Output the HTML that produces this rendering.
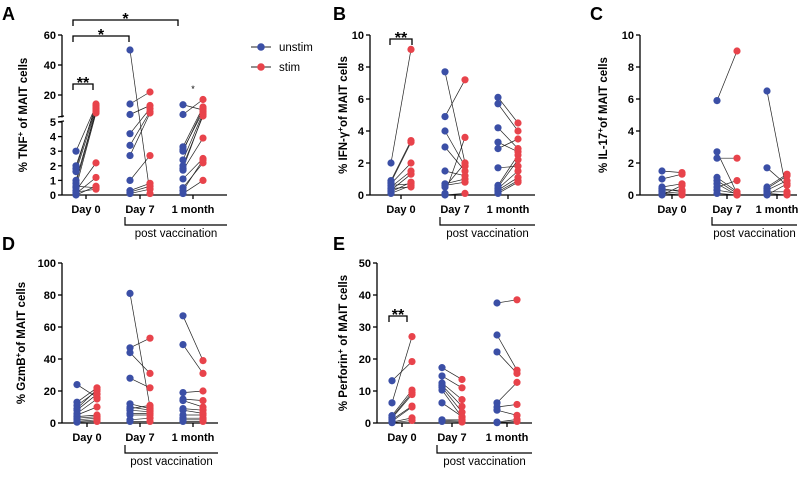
<!DOCTYPE html>
<html><head><meta charset="utf-8"><style>
body{margin:0;background:#fff;}
svg text{font-family:"Liberation Sans",Arial,sans-serif;}
.tk{font-size:11px;font-weight:bold;}
.tt{font-size:11.5px;font-weight:bold;}
.pl{font-size:18px;font-weight:bold;}
</style></head><body>
<svg id="fig" width="800" height="472" viewBox="0 0 800 472" xmlns="http://www.w3.org/2000/svg"></svg>
<script>
const categories = ["Day 0","Day 7","1 month"];
// Panel A (TNF, broken axis)
const aUnstim = [[3.0,2.0,1.8,1.6,1.0,0.8,0.5,0.3,0.1,0.0,0.6,0.2],[50,14,7,4.2,3.4,2.7,1.0,0.3,0.2,0.1],[13.5,7,3.3,3.1,2.4,1.8,1.7,1.1,0.5,0.1,3.0,2.0,0.3]];
const aStim = [[13,12,14,11,10,9,8,2.2,1.2,0.6,0.5,0.4],[0.1,22,13,11,9,8,2.7,0.8,0.6,0.4],[10,17,12,9,8,7,3.9,2.5,2.2,1.0,11,6,2.4]];
const aTicksLow = [0,1,2,3,4,5];
const aTicksHigh = [20,40,60];
// Panel B (IFN-g)
const bUnstim = [[2.0,0.9,0.8,0.7,0.5,0.3,0.2,0.1,0.6,0.4],[7.7,4.9,4.0,3.0,1.5,0.7,0.6,0.5,0.1,0.0],[6.1,5.7,4.2,3.3,2.9,1.7,0.6,0.5,0.4,0.3,0.2,0.1]];
const bStim = [[9.1,3.4,3.3,2.0,1.5,1.3,0.8,0.6,0.7,0.5],[2.0,7.2,1.8,1.5,1.2,1.0,0.8,2.0,3.6,0.1],[4.5,4.0,2.9,2.7,3.5,1.8,2.5,2.2,1.5,1.1,0.9,0.8]];
const bTicks = [0,2,4,6,8,10];
// Panel C (IL-17)
const cUnstim = [[1.5,1.0,0.5,0.4,0.3,0.2,0.1,0.0],[5.9,2.7,2.3,1.1,0.9,0.7,0.5,0.3,0.1],[6.5,1.7,0.5,0.4,0.3,0.2,0.1,0.0]];
const cStim = [[1.4,1.3,0.7,0.2,0.3,0.1,0.0,0.6],[9.0,0.1,2.3,0.2,0.1,0.0,0.9,0.1,0.0],[0.1,0.6,1.3,1.2,0.9,0.2,0.0,0.7]];
const cTicks = [0,2,4,6,8,10];
// Panel D (GzmB)
const dUnstim = [[24,13,11,9,8,6,5,4,3,2,1,0.5],[81,47,44,28,12,10,9,8,6,5,2,1],[67,49,19,15,14,9,8,5,3,2,1]];
const dStim = [[16,22,20,21,18,15,10,5,4,3,2,1],[10,53,31,22,9,8,11,7,6,5,3,1],[39,31,20,14,10,8,6,5,3,2,1]];
const dTicks = [0,20,40,60,80,100];
// Panel E (Perforin)
const eUnstim = [[13.2,6.3,2.3,1.8,1.5,1.0,0.5,0.3,0.1],[17.3,14.7,12.5,11.8,11.2,10.3,6.3,1.0,0.8,0.5],[37.5,27.5,22.2,6.3,5.0,4.0,0.3,0.1]];
const eStim = [[19.2,27,10.3,9.5,8.9,5.3,5.0,1.6,0.8],[13.6,11,7.3,5.2,3.4,1.8,2.0,1.0,0.6,0.3],[38.5,16.5,15.5,12.7,5.8,2.4,1.1,0.5]];
const eTicks = [0,10,20,30,40,50];

const NS="http://www.w3.org/2000/svg";
const svg=document.getElementById('fig');
const BLUE="#3b4fa6", RED="#e8434b";
function mk(tag,attrs,parent){const e=document.createElementNS(NS,tag);for(const k in attrs)e.setAttribute(k,attrs[k]);(parent||svg).appendChild(e);return e;}
function txt(x,y,s,cls,anchor,parent){const t=mk('text',{x:x,y:y,class:cls,'text-anchor':anchor||'middle'},parent);t.textContent=s;return t;}

function panel(cfg){
  const g=mk('g',{});
  
  
  const pl=txt(cfg.lx,cfg.ly,cfg.letter,'pl','start',g);
  
  
  // y axis
  if(cfg.broken){
    mk('line',{x1:cfg.ax,y1:cfg.yTop,x2:cfg.ax,y2:117.5,stroke:'#000','stroke-width':1.3},g);
    mk('line',{x1:cfg.ax,y1:122,x2:cfg.ax,y2:cfg.y0,stroke:'#000','stroke-width':1.3},g);
    mk('line',{x1:cfg.ax-4,y1:117,x2:cfg.ax+2,y2:116,stroke:'#000','stroke-width':1.3},g);
    mk('line',{x1:cfg.ax-4,y1:122,x2:cfg.ax+2,y2:121,stroke:'#000','stroke-width':1.3},g);
  } else {
    mk('line',{x1:cfg.ax,y1:cfg.yTop,x2:cfg.ax,y2:cfg.y0,stroke:'#000','stroke-width':1.3},g);
  }
  cfg.ticks.forEach(v=>{const y=cfg.ys(v);
    mk('line',{x1:cfg.ax-4,y1:y,x2:cfg.ax,y2:y,stroke:'#000','stroke-width':1.3},g);
    const t=txt(cfg.ax-6,y+4,String(v),'tk','end',g);
    
    
  });
  // x axis
  mk('line',{x1:cfg.ax,y1:cfg.y0,x2:cfg.xEnd,y2:cfg.y0,stroke:'#000','stroke-width':1.3},g);
  categories.forEach((c,i)=>{const x=cfg.cats[i];
    mk('line',{x1:x,y1:cfg.y0,x2:x,y2:cfg.y0+4,stroke:'#000','stroke-width':1.3},g);
    const t=txt(x,cfg.y0+18,c,'tk','middle',g);
    
    
  });
  // post vaccination bracket
  const by=cfg.y0+30;
  mk('path',{d:`M${cfg.cats[1]-15},${by-8} V${by} H${cfg.xEnd}`,fill:'none',stroke:'#000','stroke-width':1.2},g);
  const pv=mk('text',{x:(cfg.cats[1]-15+cfg.xEnd)/2,y:by+12,'text-anchor':'middle','font-size':'11.5'},g);
  pv.textContent='post vaccination';
  
  
  // y title
  const tt=mk('text',{x:0,y:0,class:'tt','text-anchor':'middle',transform:`translate(${cfg.tx},${(cfg.yTop+cfg.y0)/2}) rotate(-90)`},g);
  
  
  const a=mk('tspan',{},tt);a.textContent=cfg.t1;
  const s=mk('tspan',{'baseline-shift':'super','font-size':'8'},tt);s.textContent='+';
  const b=mk('tspan',{},tt);b.textContent=cfg.t2;
  // data
  for(let i=0;i<3;i++){
    const xb=cfg.cats[i]-10,xr=cfg.cats[i]+10;
    const U=cfg.u[i],S=cfg.s[i];
    for(let j=0;j<U.length;j++){
      const l=mk('line',{x1:xb,y1:cfg.ys(U[j]),x2:xr,y2:cfg.ys(S[j]),stroke:'#222','stroke-width':0.7},g);
      
      
    }
    for(let j=0;j<U.length;j++){
      const c=mk('circle',{cx:xb,cy:cfg.ys(U[j]),r:3.6,fill:BLUE},g);
      
      
    }
    for(let j=0;j<S.length;j++){
      const c=mk('circle',{cx:xr,cy:cfg.ys(S[j]),r:3.6,fill:RED},g);
      
      
    }
  }
  return g;
}
function lin(y0,yTop,max){return v=>y0-(v/max)*(y0-yTop);}
function brk(v){return v<=5?195-v*14.6:95-(v-20)*1.5;}
function star(g,x1,x2,y,s,size){
  mk('path',{d:`M${x1},${y+6} V${y} H${x2} V${y+6}`,fill:'none',stroke:'#000','stroke-width':1.3},g);
  const t=txt((x1+x2)/2,y-2+ (size>14?6:4),s,'', 'middle',g);
  t.setAttribute('font-size',size);t.setAttribute('font-weight','bold');
  
  
}

const gA=panel({name:'panel-a-tnf',letter:'A',lx:2,ly:20,ax:62,y0:195,yTop:35,xEnd:227,cats:[86,140,193],broken:true,ys:brk,ticks:aTicksLow.concat(aTicksHigh),u:aUnstim,s:aStim,tx:27,t1:'% TNF',t2:' of MAIT cells'});
star(gA,73,93,84,'**',16);
star(gA,73,129,36,'*',16);
star(gA,73,178,20,'*',16);
const sm=txt(193,92,'*','','middle',gA);sm.setAttribute('font-size','9');
gA.querySelector('.tt').setAttribute('transform','translate(27,115) rotate(-90)');

const gB=panel({name:'panel-b-ifng',letter:'B',lx:333,ly:20,ax:370,y0:195,yTop:35,xEnd:535,cats:[401,455,508],ys:lin(195,35,10),ticks:bTicks,u:bUnstim,s:bStim,tx:347,t1:'% IFN-γ',t2:'of MAIT cells'});
star(gB,390,412,39,'**',16);

panel({name:'panel-c-il17',letter:'C',lx:590,ly:20,ax:640,y0:195,yTop:35,xEnd:797,cats:[672,727,777],ys:lin(195,35,10),ticks:cTicks,u:cUnstim,s:cStim,tx:607,t1:'% IL-17',t2:'of MAIT cells'});

panel({name:'panel-d-gzmb',letter:'D',lx:2,ly:250,ax:62,y0:423,yTop:263,xEnd:218,cats:[87,140,193],ys:lin(423,263,100),ticks:dTicks,u:dUnstim,s:dStim,tx:25,t1:'% GzmB',t2:'of MAIT cells'});

const gE=panel({name:'panel-e-perforin',letter:'E',lx:333,ly:250,ax:377,y0:423,yTop:263,xEnd:532,cats:[402,452,507],ys:lin(423,263,50),ticks:eTicks,u:eUnstim,s:eStim,tx:347,t1:'% Perforin',t2:' of MAIT cells'});
star(gE,389,407,316,'**',16);

// legend
const lg=mk('g',{});


[['unstim',BLUE,47],['stim',RED,67]].forEach(([n,c,y])=>{
  const e=mk('g',{},lg);
  
  
  mk('line',{x1:251,y1:y,x2:271,y2:y,stroke:'#222','stroke-width':1},e);
  mk('circle',{cx:261,cy:y,r:3.8,fill:c},e);
  const t=txt(279,y+4,n,'','start',e);t.setAttribute('font-size','11.5');
});
</script>
</body></html>
